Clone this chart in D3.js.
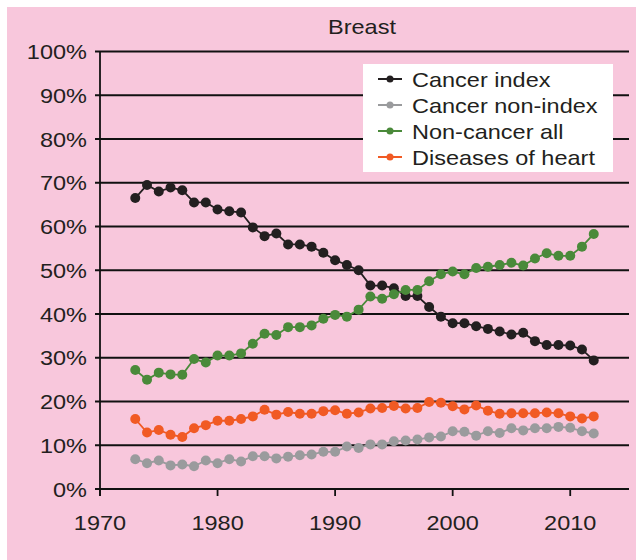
<!DOCTYPE html>
<html>
<head>
<meta charset="utf-8">
<script src="https://cdn.jsdelivr.net/npm/d3@7"></script>
<style>
  body { margin: 0; background: #ffffff; }
  text { font-family: "Liberation Sans", Arial, sans-serif; fill: #231f20; }
</style>
</head>
<body>
<div class="chart"></div>
<script>
var years = d3.range(1973, 2013);
var cancerIndex = [66.5, 69.5, 68, 68.9, 68.3, 65.5, 65.5, 63.9, 63.5, 63.2,
                   59.8, 57.8, 58.4, 55.9, 55.9, 55.4, 54, 52.3, 51.2, 50,
                   46.5, 46.5, 45.9, 44.1, 44.1, 41.6, 39.4, 37.9, 37.9, 37.2,
                   36.6, 36, 35.3, 35.7, 33.8, 32.9, 32.9, 32.8, 31.9, 29.4];
var cancerNonIndex = [6.8, 5.9, 6.5, 5.4, 5.6, 5.2, 6.5, 5.9, 6.8, 6.3,
                      7.5, 7.5, 7.0, 7.4, 7.7, 7.9, 8.5, 8.5, 9.7, 9.4,
                      10.2, 10.2, 10.9, 11.1, 11.3, 11.8, 12.0, 13.2, 13.1, 12.2,
                      13.2, 12.8, 13.9, 13.4, 13.9, 13.9, 14.2, 14.0, 13.2, 12.7];
var nonCancerAll = [27.2, 25.0, 26.6, 26.2, 26.1, 29.7, 28.9, 30.5, 30.5, 31.0,
                    33.2, 35.5, 35.2, 37, 37, 37.4, 38.9, 39.8, 39.4, 41,
                    44, 43.5, 44.5, 45.5, 45.5, 47.5, 49.1, 49.7, 49.1, 50.5,
                    50.8, 51.2, 51.7, 51.1, 52.7, 53.9, 53.3, 53.3, 55.4, 58.3];
var heartDisease = [16.0, 12.9, 13.5, 12.4, 11.9, 13.9, 14.6, 15.6, 15.6, 16.0,
                    16.6, 18.1, 17.0, 17.6, 17.2, 17.2, 17.8, 18.0, 17.2, 17.5,
                    18.4, 18.5, 19.0, 18.4, 18.5, 19.9, 19.7, 18.9, 18.2, 19.1,
                    17.9, 17.2, 17.3, 17.3, 17.3, 17.5, 17.3, 16.6, 16.1, 16.6];
var seriesNames = ["Cancer index", "Cancer non-index", "Non-cancer all", "Diseases of heart"];
var seriesColors = ["#231f20", "#9a9b9d", "#4a8a3a", "#f15a24"];
var yTicks = d3.range(0, 101, 10);
var xTicks = [1970, 1980, 1990, 2000, 2010];

var series = [cancerIndex, cancerNonIndex, nonCancerAll, heartDisease];

// Create svg container
var svg = d3.select(".chart").append("svg")
            .attr("width", 636)
            .attr("height", 560);

svg.append("rect")
   .attr("x", 7).attr("y", 7)
   .attr("width", 629).attr("height", 553)
   .attr("fill", "#f8c7dc");

var x = d3.scaleLinear().domain([1970, 2015]).range([100, 629]);
var y = d3.scaleLinear().domain([0, 100]).range([489, 51.5]);

// text is a bit wide in the original, so stretch it sideways
function label(sel, tx, ty, str, anchor) {
  return sel.append("text")
            .attr("transform", "translate(" + tx + "," + ty + ") scale(1.12,1)")
            .attr("text-anchor", anchor)
            .style("font-size", "21px")
            .text(str);
}

// Title
label(svg, 362, 34, "Breast", "middle");

// Gridlines
svg.append("g")
   .selectAll("line")
   .data(yTicks)
   .join("line")
   .attr("x1", 95).attr("x2", 629)
   .attr("y1", function(d) { return y(d); })
   .attr("y2", function(d) { return y(d); })
   .attr("stroke", "#111")
   .attr("stroke-width", 1.8);

// Y axis line and labels
svg.append("line")
   .attr("x1", 100).attr("x2", 100)
   .attr("y1", y(100)).attr("y2", y(0) + 7)
   .attr("stroke", "#111").attr("stroke-width", 1.8);

yTicks.forEach(function(d) {
  label(svg, 87, y(d) + 7.5, d + "%", "end");
});

// X axis ticks and labels
xTicks.forEach(function(d) {
  svg.append("line")
     .attr("x1", x(d)).attr("x2", x(d))
     .attr("y1", y(0)).attr("y2", y(0) + 7)
     .attr("stroke", "#111").attr("stroke-width", 1.8);
  label(svg, x(d), 530, d, "middle");
});

// Series lines and dots
var line = d3.line()
             .x(function(d, i) { return x(years[i]); })
             .y(function(d) { return y(d); });

series.forEach(function(vals, k) {
  var g = svg.append("g");
  g.append("path")
   .attr("d", line(vals))
   .attr("fill", "none")
   .attr("stroke", seriesColors[k])
   .attr("stroke-width", 1.8);
  g.selectAll("circle")
   .data(vals)
   .join("circle")
   .attr("cx", function(d, i) { return x(years[i]); })
   .attr("cy", function(d) { return y(d); })
   .attr("r", 5)
   .attr("fill", seriesColors[k]);
});

// Legend
var legend = svg.append("g");
legend.append("rect")
      .attr("x", 363).attr("y", 64)
      .attr("width", 250).attr("height", 108)
      .attr("fill", "#ffffff");

seriesNames.forEach(function(name, k) {
  var cy = 79 + k * 26;
  legend.append("line")
        .attr("x1", 378).attr("x2", 402)
        .attr("y1", cy).attr("y2", cy)
        .attr("stroke", seriesColors[k])
        .attr("stroke-width", 2);
  legend.append("circle")
        .attr("cx", 390).attr("cy", cy)
        .attr("r", 3.5)
        .attr("fill", seriesColors[k]);
  label(legend, 412, cy + 7.5, name, "start");
});
</script>
</body>
</html>
